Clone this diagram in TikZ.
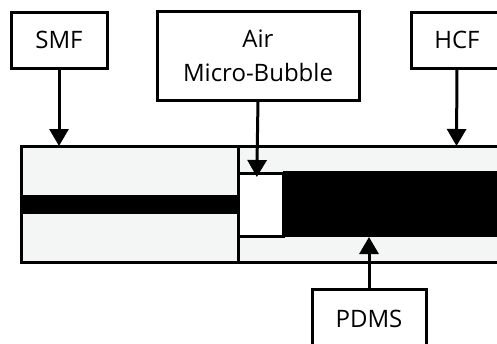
\documentclass[tikz,border=0pt]{standalone}
\usepackage{fontspec}
\setmainfont{Open Sans}
\usetikzlibrary{arrows.meta}
\tikzset{
  x=1pt,y=-1pt,
  label box/.style={draw=black,line width=3pt,fill=white,inner sep=0pt,outer sep=0pt,align=center,font=\fontsize{24}{34}\selectfont},
  pointer/.style={line width=3pt,-{Triangle[width=19pt,length=17pt]}},
  cladding/.style={draw=black,line width=3pt,fill=cladgrey},
  core/.style={fill=black},
}
\definecolor{cladgrey}{HTML}{F4F6F5}
\begin{document}
\begin{tikzpicture}
\useasboundingbox (0,0) rectangle (497,343);
\clip (0,0) rectangle (497,343);
% fibres
\draw[cladding] (510,146) -- (21,146) -- (21,262) -- (510,262);
\fill[core] (21,194.5) rectangle (238,214);
\fill[core] (283,171) rectangle (497,237);
\draw[black,line width=3pt,fill=white] (238,173.5) rectangle (283,236);
\draw[black,line width=3pt] (238,146) -- (238,262);
% targets
\coordinate (smfT) at (59,146);
\coordinate (airT) at (256.8,177);
\coordinate (hcfT) at (456.5,146);
\coordinate (pdmsT) at (369,237);
% labels
\node[label box,minimum width=96pt,minimum height=56pt] (smf) at (59,40) {\raisebox{-1pt}{SMF}};
\node[label box,minimum width=202pt,minimum height=89pt] (air) at (258,56) {\raisebox{-1.5pt}{Air}\\\raisebox{-1.5pt}{Micro-Bubble}};
\node[label box,minimum width=92pt,minimum height=56pt] (hcf) at (457,40) {\raisebox{-1pt}{HCF}};
\node[label box,minimum width=114pt,minimum height=80pt] (pdms) at (369,329) {\raisebox{20pt}{PDMS}};
% connectors
\draw[pointer] (smf.south) -- (smfT);
\draw[pointer] (air.south) -- (airT);
\draw[pointer] (hcf.south) -- (hcfT);
\draw[pointer] (pdms.north) -- (pdmsT);
\end{tikzpicture}
\end{document}
